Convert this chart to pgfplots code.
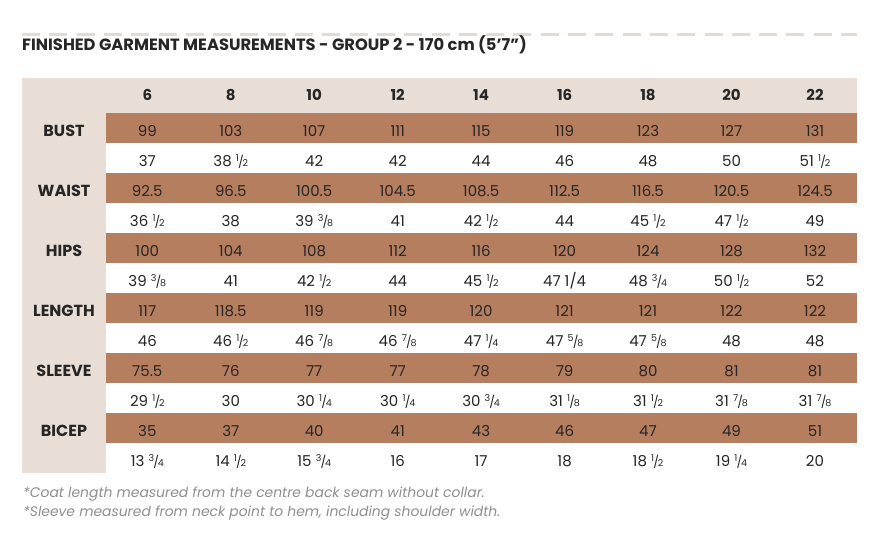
\documentclass[border=0pt]{standalone}
\usepackage{pgfplots}
\pgfplotsset{compat=1.18}
\usepackage{fontspec}
\setmainfont{Poppins}
\definecolor{beige}{HTML}{E8DED6}
\definecolor{brownrow}{HTML}{B57E5E}
\definecolor{dashc}{HTML}{E4DAD2}
\definecolor{ink}{HTML}{262626}
\definecolor{note}{HTML}{8E8E8E}
\newcommand\fr[2]{\kern.28em\raisebox{.5ex}{\fontsize{9.5}{9.5}\selectfont #1}\kern-.06em{\fontsize{12}{12}\selectfont /}\kern-.08em{\fontsize{9.5}{9.5}\selectfont #2}}
\pgfplotsset{
  vals/.style={draw=none, mark=none, nodes near coords, point meta=explicit symbolic,
    nodes near coords align={anchor=base},
    every node near coord/.append style={inner sep=0pt, text=ink, font=\fontsize{15}{18}\selectfont}},
  bvals/.style={vals, every node near coord/.append style={font=\fontsize{15}{18}\selectfont\bfseries}},
  lvals/.style={vals, every node near coord/.append style={font=\fontsize{16}{18}\selectfont\bfseries}},
}
\begin{document}
\begin{tikzpicture}
\begin{axis}[
  width=887pt, height=542pt, scale only axis,
  xmin=0, xmax=887, ymin=0, ymax=542, y dir=reverse,
  hide axis, clip=false,
]
% frame extent (invisible)
\addplot[draw=none] coordinates {(0,0) (887,542)};
% dashed rule
\addplot[dashc, line width=3pt, dash pattern=on 18pt off 9.3pt] coordinates {(22,34) (857,34)};
% table background
\addplot[fill=beige, draw=none] coordinates {(22,77.5) (857,77.5) (857,472.5) (22,472.5)} -- cycle;
\addplot[fill=white, draw=none] coordinates {(106,113) (857,113) (857,472.5) (106,472.5)} -- cycle;
\addplot[fill=brownrow, draw=none] coordinates {(106,113) (857,113) (857,143) (106,143)} -- cycle;
\addplot[fill=brownrow, draw=none] coordinates {(106,173) (857,173) (857,203) (106,203)} -- cycle;
\addplot[fill=brownrow, draw=none] coordinates {(106,233) (857,233) (857,263) (106,263)} -- cycle;
\addplot[fill=brownrow, draw=none] coordinates {(106,293) (857,293) (857,323) (106,323)} -- cycle;
\addplot[fill=brownrow, draw=none] coordinates {(106,353) (857,353) (857,383) (106,383)} -- cycle;
\addplot[fill=brownrow, draw=none] coordinates {(106,413) (857,413) (857,443) (106,443)} -- cycle;
% header
\addplot[bvals] coordinates {(147.3,100.5)[6] (230.8,100.5)[8] (314.2,100.5)[10] (397.7,100.5)[12] (481.1,100.5)[14] (564.6,100.5)[16] (648.0,100.5)[18] (731.5,100.5)[20] (815.0,100.5)[22]};
% row labels
\addplot[lvals] coordinates {(64,136)[BUST] (64,196)[WAIST] (64,256)[HIPS] (64,316)[LENGTH] (64,376)[SLEEVE] (64,436)[BICEP]};
% BUST
\addplot[vals] coordinates {(147.3,136)[99] (230.8,136)[103] (314.2,136)[107] (397.7,136)[111] (481.1,136)[115] (564.6,136)[119] (648.0,136)[123] (731.5,136)[127] (815.0,136)[131]};
\addplot[vals] coordinates {(147.3,166)[37] (230.8,166)[38\fr12] (314.2,166)[42] (397.7,166)[42] (481.1,166)[44] (564.6,166)[46] (648.0,166)[48] (731.5,166)[50] (815.0,166)[51\fr12]};
% WAIST
\addplot[vals] coordinates {(147.3,196)[92.5] (230.8,196)[96.5] (314.2,196)[100.5] (397.7,196)[104.5] (481.1,196)[108.5] (564.6,196)[112.5] (648.0,196)[116.5] (731.5,196)[120.5] (815.0,196)[124.5]};
\addplot[vals] coordinates {(147.3,226)[36\fr12] (230.8,226)[38] (314.2,226)[39\fr38] (397.7,226)[41] (481.1,226)[42\fr12] (564.6,226)[44] (648.0,226)[45\fr12] (731.5,226)[47\fr12] (815.0,226)[49]};
% HIPS
\addplot[vals] coordinates {(147.3,256)[100] (230.8,256)[104] (314.2,256)[108] (397.7,256)[112] (481.1,256)[116] (564.6,256)[120] (648.0,256)[124] (731.5,256)[128] (815.0,256)[132]};
\addplot[vals] coordinates {(147.3,286)[39\fr38] (230.8,286)[41] (314.2,286)[42\fr12] (397.7,286)[44] (481.1,286)[45\fr12] (564.6,286)[47 1/4] (648.0,286)[48\fr34] (731.5,286)[50\fr12] (815.0,286)[52]};
% LENGTH
\addplot[vals] coordinates {(147.3,316)[117] (230.8,316)[118.5] (314.2,316)[119] (397.7,316)[119] (481.1,316)[120] (564.6,316)[121] (648.0,316)[121] (731.5,316)[122] (815.0,316)[122]};
\addplot[vals] coordinates {(147.3,346)[46] (230.8,346)[46\fr12] (314.2,346)[46\fr78] (397.7,346)[46\fr78] (481.1,346)[47\fr14] (564.6,346)[47\fr58] (648.0,346)[47\fr58] (731.5,346)[48] (815.0,346)[48]};
% SLEEVE
\addplot[vals] coordinates {(147.3,376)[75.5] (230.8,376)[76] (314.2,376)[77] (397.7,376)[77] (481.1,376)[78] (564.6,376)[79] (648.0,376)[80] (731.5,376)[81] (815.0,376)[81]};
\addplot[vals] coordinates {(147.3,406)[29\fr12] (230.8,406)[30] (314.2,406)[30\fr14] (397.7,406)[30\fr14] (481.1,406)[30\fr34] (564.6,406)[31\fr18] (648.0,406)[31\fr12] (731.5,406)[31\fr78] (815.0,406)[31\fr78]};
% BICEP
\addplot[vals] coordinates {(147.3,436)[35] (230.8,436)[37] (314.2,436)[40] (397.7,436)[41] (481.1,436)[43] (564.6,436)[46] (648.0,436)[47] (731.5,436)[49] (815.0,436)[51]};
\addplot[vals] coordinates {(147.3,466)[13\fr34] (230.8,466)[14\fr12] (314.2,466)[15\fr34] (397.7,466)[16] (481.1,466)[17] (564.6,466)[18] (648.0,466)[18\fr12] (731.5,466)[19\fr14] (815.0,466)[20]};
% title and notes
\node[anchor=base west, inner sep=0pt, text=ink, font=\fontsize{16.3}{18}\selectfont\bfseries] at (axis cs:22,50.7) {FINISHED GARMENT MEASUREMENTS - GROUP 2 - 170 cm (5’7”)};
\node[anchor=base west, inner sep=0pt, text=note, font=\fontsize{13.9}{17}\selectfont\itshape] at (axis cs:23,497) {*Coat length measured from the centre back seam without collar.};
\node[anchor=base west, inner sep=0pt, text=note, font=\fontsize{13.9}{17}\selectfont\itshape] at (axis cs:23,516) {*Sleeve measured from neck point to hem, including shoulder width.};
\end{axis}
\end{tikzpicture}
\end{document}
